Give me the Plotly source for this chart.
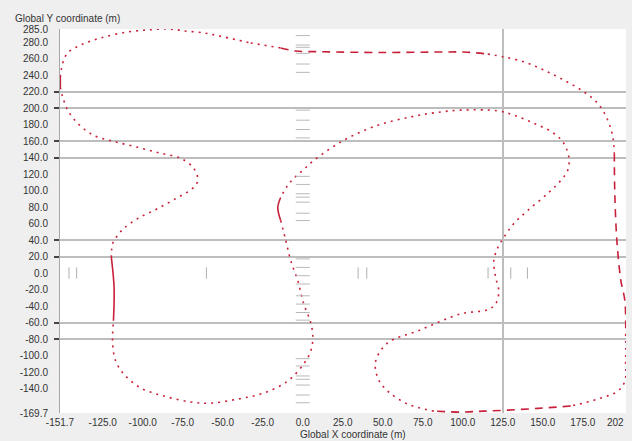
import plotly.graph_objects as go

# ---- track centreline (global X / Y, metres) ----
TRACK_X = [-32.5, -13.8, -4.4, 11.3, 48.8, 86.3, 100.6, 115.6, 125.0, 138.1,
           150.6, 163.1, 175.6, 184.4, 190.6, 193.8, 194.7, 195.0, 196.3, 198.8,
           201.3, 201.8, 201.8, 201.3, 196.9, 184.4, 167.5, 146.9, 128.1, 113.1,
           98.8, 81.9, 65.6, 53.1, 46.9, 45.6, 53.1, 71.9, 98.8, 115.6,
           120.6, 122.5, 120.6, 119.4, 121.9, 125.6, 131.9, 140.6, 153.1, 161.3,
           165.6, 166.3, 163.1, 156.9, 144.4, 131.9, 121.9, 98.8, 81.9, 67.5,
           46.9, 25.6, 6.9, 0.0, -5.6, -9.4, -13.8, -15.6, -13.8, -10.6,
           -7.5, -3.1, 0.6, 5.0, 6.3, 5.0, 0.6, -9.4, -24.4, -40.6,
           -57.5, -70.0, -86.9, -101.3, -111.9, -116.9, -118.8, -118.3, -117.9, -119.6,
           -118.8, -115.8, -111.9, -103.1, -90.6, -78.1, -68.8, -65.6, -68.1, -76.3,
           -88.8, -103.1, -118.1, -130.6, -140.6, -146.9, -150.0, -151.5, -151.5, -150.0,
           -146.9, -138.8, -126.3, -109.4, -96.9, -85.6, -78.1, -74.4, -61.9, -49.4]
TRACK_Y = [279.1, 273.0, 269.3, 268.5, 267.5, 268.1, 268.1, 265.7, 262.4, 256.3,
           246.2, 234.1, 219.8, 205.7, 185.4, 164.7, 145.3, 96.6, 39.4, -9.2,
           -33.6, -73.7, -106.6, -130.9, -143.1, -152.8, -161.3, -164.1, -166.2, -167.4,
           -168.6, -167.4, -158.9, -143.1, -127.3, -106.6, -84.7, -70.1, -49.4, -44.5,
           -37.2, -21.4, -5.6, 15.1, 30.9, 43.1, 60.1, 75.9, 96.6, 112.4,
           124.6, 140.4, 157.4, 169.6, 181.7, 191.5, 196.7, 197.6, 194.3, 189.4,
           179.3, 161.0, 136.6, 124.6, 114.9, 106.4, 91.7, 79.6, 63.8, 39.4,
           15.1, -9.2, -37.2, -60.3, -78.6, -94.4, -110.2, -130.9, -145.5, -152.8,
           -157.7, -156.4, -149.1, -139.3, -122.3, -106.6, -85.9, -57.9, -17.8, 18.7,
           35.8, 45.5, 54.0, 66.2, 78.3, 91.7, 102.7, 112.4, 127.0, 139.2,
           145.3, 152.5, 159.7, 167.0, 181.6, 197.6, 213.4, 225.5, 237.7, 254.7,
           266.9, 276.6, 285.2, 292.4, 294.9, 296.0, 294.9, 293.7, 291.3, 286.4]

# small grey marks along the zero lines
MARK_Y_ON_X0 = [288.0, 276.6, 273.8, 266.5, 253.5, 243.4, 197.6, 185.4, 174.1, 163.9,
                117.3, 107.5, 96.2, 92.1, 86.0, 72.6, 63.7, 17.2, 6.9, -3.2,
                -13.3, -27.5, -37.6, -47.8, -57.1, -103.8, -112.7, -124.8, -128.8,
                -135.8, -147.9, -157.3]
MARK_X_ON_Y0 = [-146.1, -141.3, -60.2, 34.6, 40.0, 115.8, 130.0, 140.4]

# axes
X_MIN, X_MAX = -151.7, 202.0
Y_MIN, Y_MAX = -169.7, 296.0
X_TICKS = [-151.7, -125, -100, -75, -50, -25, 0, 25, 50, 75, 100, 125, 150, 175, 202]
X_TICK_TEXT = ["-151.7", "-125.0", "-100.0", "-75.0", "-50.0", "-25.0", "0.0", "25.0",
               "50.0", "75.0", "100.0", "125.0", "150.0", "175.0", "202"]
Y_TICKS = [296, 280, 260, 240, 220, 200, 180, 160, 140, 120, 100, 80, 60, 40, 20, 0,
           -20, -40, -60, -80, -100, -120, -140, -169.7]
Y_TICK_TEXT = ["285.0", "280.0", "260.0", "240.0", "220.0", "200.0", "180.0", "160.0",
               "140.0", "120.0", "100.0", "80.0", "60.0", "40.0", "20.0", "0.0",
               "-20.0", "-40.0", "-60.0", "-80.0", "-100.0", "-120.0", "-140.0", "-169.7"]
X_GRID = [125]
Y_GRID = [220, 200, 160, 140, 40, 20, -60, -80]

# ---- styling of the track pieces (index ranges along the loop) ----
DOT = "2px,5px"
DASH = "8px,6px"
SEGMENTS = [(0, 1, DOT), (1, 7, DASH), (7, 16, DOT), (16, 21, DASH), (21, 26, DOT),
            (26, 31, DASH), (31, 66, DOT), (66, 68, "solid"), (68, 87, DOT),
            (87, 89, "solid"), (89, 107, DOT), (107, 108, "solid"), (108, 120, DOT)]

n = len(TRACK_X)
fig = go.Figure()
for a, b, dash in SEGMENTS:
    idx = [i % n for i in range(a, b + 1)]
    fig.add_trace(go.Scatter(
        x=[TRACK_X[i] for i in idx], y=[TRACK_Y[i] for i in idx],
        mode="lines", line=dict(color="#c8203a", width=1.6, dash=dash, shape="spline"),
        hoverinfo="skip", showlegend=False, cliponaxis=True))

fig.add_trace(go.Scatter(
    x=[0] * len(MARK_Y_ON_X0), y=MARK_Y_ON_X0, mode="markers",
    marker=dict(symbol="line-ew", size=10, line=dict(color="#b8b8b8", width=1)),
    xaxis="x2", yaxis="y2", showlegend=False, hoverinfo="skip"))
fig.add_trace(go.Scatter(
    x=MARK_X_ON_Y0, y=[0] * len(MARK_X_ON_Y0), mode="markers",
    marker=dict(symbol="line-ns", size=8, line=dict(color="#b0b0b0", width=1)),
    xaxis="x2", yaxis="y2", showlegend=False, hoverinfo="skip"))

font = dict(family="Liberation Sans, Arial, sans-serif", size=10, color="#333333")
fig.update_layout(
    width=632, height=441,
    margin=dict(l=60, r=6, t=29, b=28),
    paper_bgcolor="#efefef", plot_bgcolor="white",
    font=font, showlegend=False,
    xaxis=dict(range=[X_MIN, X_MAX], tickvals=X_TICKS[:-1], ticktext=X_TICK_TEXT[:-1],
               showgrid=False, zeroline=False, showline=False, ticks="",
               ticklabelstandoff=2, tickfont=font),
    yaxis=dict(range=[Y_MIN, Y_MAX], tickvals=Y_TICKS, ticktext=Y_TICK_TEXT,
               showgrid=False, zeroline=False, showline=True, linecolor="#a8a8a8",
               linewidth=1, ticks="", ticklabelstandoff=9, tickfont=font),
    xaxis2=dict(range=[X_MIN, X_MAX], overlaying="x", tickvals=X_GRID,
                showgrid=True, gridcolor="#bdbdbd", gridwidth=1.5,
                showticklabels=False, zeroline=False, ticks=""),
    yaxis2=dict(range=[Y_MIN, Y_MAX], overlaying="y", side="left", tickvals=Y_GRID,
                showgrid=True, gridcolor="#bdbdbd", gridwidth=1.5,
                showticklabels=False, zeroline=False, ticks="outside", ticklen=5,
                tickcolor="#444444", tickwidth=1.5),
    annotations=[
        dict(text="Global Y coordinate (m)", xref="paper", yref="paper",
             x=-47 / 566, y=1 + 10 / 384, xanchor="left", yanchor="middle",
             showarrow=False, font=font),
        dict(text="Global X coordinate (m)", xref="paper", yref="paper",
             x=(353 - 60) / 566, y=-21 / 384, xanchor="center", yanchor="middle",
             showarrow=False, font=font),
        # last x tick label, kept inside the page as in the reference
        dict(text=X_TICK_TEXT[-1], x=X_TICKS[-1], xref="x", yref="paper",
             y=-9 / 384, xanchor="right", yanchor="middle", showarrow=False,
             font=font),
    ],
)
fig.write_html("out.html",
               config={"displayModeBar": False},
               post_script="document.body.style.margin='0px';"
                           "document.body.style.overflow='hidden';")
